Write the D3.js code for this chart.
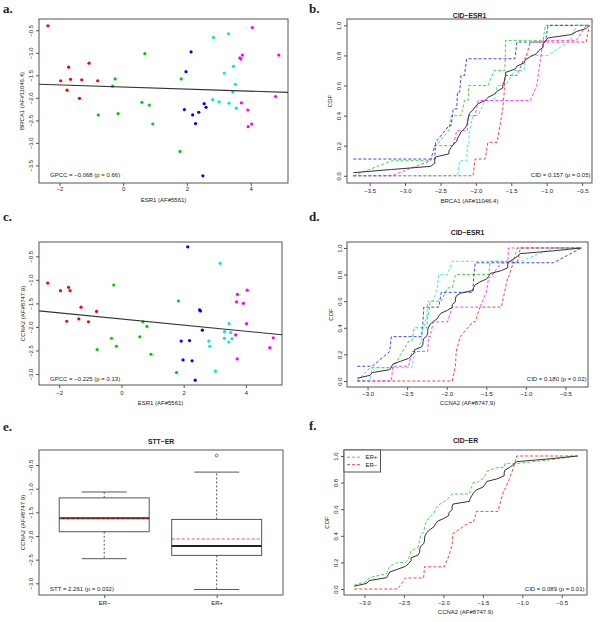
<!DOCTYPE html>
<html><head><meta charset="utf-8">
<script src="https://cdn.jsdelivr.net/npm/d3@7"></script>
<style>body{margin:0;background:#fff}</style>
</head><body><svg id="c" width="600" height="622"></svg>
<script>
// ---------------- data ----------------
const clusterColors = ["#ff0000","#00cd00","#0000ff","#00e5e5","#ff00ff"];
// panel a: ESR1 vs BRCA1, one array per cluster
const esr1_a = [
 [-2.36,-1.96,-1.71,-1.65,-1.76,-1.30,-1.07,-1.37,-0.80],
 [-0.78,-0.33,-0.25,-0.16,0.68,0.59,0.82,0.93,1.82,1.78],
 [2.13,1.97,1.92,2.18,2.27,2.37,2.54,2.60,2.50],
 [2.83,3.30,3.17,3.46,3.52,3.44,2.81,3.01,3.32,3.55],
 [4.05,3.74,3.66,3.69,4.88,4.78,3.71,3.91,4.03,3.92]];
const brca1_a = [
 [-0.40,-1.62,-1.32,-1.59,-1.83,-1.60,-1.23,-2.01,-1.62],
 [-2.38,-1.74,-1.58,-2.35,-1.02,-2.10,-2.16,-2.58,-1.58,-3.19],
 [-0.98,-1.42,-2.26,-2.38,-2.57,-2.32,-2.13,-2.21,-3.73],
 [-0.66,-0.58,-1.45,-1.30,-1.70,-1.87,-2.04,-2.09,-2.12,-2.23],
 [-0.44,-1.05,-1.11,-1.14,-1.05,-1.97,-2.11,-2.27,-2.58,-2.64]];
// panel c: ESR1 vs CCNA2
const esr1_c = [
 [-2.37,-1.96,-1.70,-1.65,-1.30,-1.76,-1.37,-1.06,-0.80],
 [-0.78,-0.25,-0.32,-0.16,0.69,0.82,0.59,0.95,1.83,1.77],
 [2.13,2.51,2.54,2.60,1.92,2.19,1.98,2.27,2.37],
 [3.17,3.46,3.31,3.51,3.31,3.55,2.81,2.84,3.45,3.02],
 [4.04,3.73,3.70,3.92,4.02,3.67,3.72,4.88,4.77]];
const ccna2_c = [
 [-1.07,-1.23,-1.16,-1.23,-1.58,-1.88,-1.83,-1.89,-1.67],
 [-2.48,-1.11,-2.24,-2.41,-1.89,-1.99,-2.21,-2.58,-1.45,-2.97],
 [-0.30,-1.64,-1.66,-2.07,-2.30,-2.29,-2.70,-2.72,-3.13],
 [-0.65,-1.93,-2.10,-2.12,-2.24,-2.25,-2.30,-2.41,-2.32,-2.94],
 [-1.22,-1.31,-1.47,-1.50,-1.93,-2.17,-2.68,-2.23,-2.44]];
// fitted lines [intercept, slope]
const fitA = [-1.760, -0.0229];
const fitC = [-1.831, -0.065];
// panels e/f: CCNA2 by ER status
const erGroups = ["ER\u2212","ER+"];
const erNeg = [-2.48,-2.24,-1.93,-1.89,-1.88,-1.67,-1.58,-1.23,-1.23,-1.16,-1.11,-1.07];
const erPos = [-3.13,-2.97,-2.94,-2.72,-2.70,-2.68,-2.58,-2.44,-2.41,-2.41,-2.32,-2.30,-2.30,-2.29,-2.25,-2.24,-2.23,-2.21,-2.17,-2.12,-2.10,-2.07,-1.99,-1.93,-1.89,-1.66,-1.64,-1.62,-1.50,-1.47,-1.45,-1.31,-1.22,-0.65,-0.30];
const erColors = ["#ff0000","#00cd00"];
// tick values
const ticksScatterX = [-2,0,2,4];
const ticksA_Y = [-3.5,-3,-2.5,-2,-1.5,-1,-0.5];
const ticksC_Y = [-3,-2.5,-2,-1.5,-1,-0.5];
const ticksB_X = [-3.5,-3,-2.5,-2,-1.5,-1,-0.5];
const ticksDF_X = [-3,-2.5,-2,-1.5,-1,-0.5];
const ticksCDF = [0,0.2,0.4,0.6,0.8,1.0];
// texts
const statText = ["GPCC = \u22120.068 (p = 0.66)","CID = 0.157 (p = 0.05)","GPCC = \u22120.225 (p = 0.13)","CID = 0.180 (p = 0.02)","STT = 2.261 (p = 0.032)","CID = 0.089 (p = 0.01)"];

// ---------------- drawing ----------------
const svg = d3.select("#c");
const FONT = "'Liberation Sans', Arial, sans-serif";
const TXT = "#222", LN = "#555";
const fs = 6;

function txt(x,y,s,o={}) {
  const t = svg.append("text").attr("x",x).attr("y",y).text(s)
    .attr("font-family",o.family||FONT).attr("font-size",o.size||fs)
    .attr("fill",o.fill||TXT).attr("text-anchor",o.anchor||"start");
  if (o.bold) t.attr("font-weight","bold");
  if (o.rot) t.attr("transform",`rotate(-90,${x},${y})`);
  return t;
}
function frame(p){
  svg.append("rect").attr("x",p.x0).attr("y",p.y0).attr("width",p.x1-p.x0).attr("height",p.y1-p.y0)
    .attr("fill","none").attr("stroke",LN).attr("stroke-width",1);
}
function xAxis(p, ticks, fmt, base){
  const g = svg.append("g").attr("transform",`translate(0,${p.y1})`)
    .call(d3.axisBottom(p.xs).tickValues(ticks).tickFormat(fmt).tickSize(3).tickSizeOuter(0));
  g.attr("font-size",null).attr("font-family",null);
  g.select(".domain").remove();
  g.selectAll("line").attr("stroke",LN);
  g.selectAll("text").attr("y",base-p.y1).attr("dy",null).attr("font-size",fs).attr("font-family",FONT).attr("fill",TXT);
}
function yAxis(p, ticks, fmt, base){
  const g = svg.append("g").attr("transform",`translate(${p.x0},0)`)
    .call(d3.axisLeft(p.ys).tickValues(ticks).tickFormat(fmt).tickSize(3).tickSizeOuter(0));
  g.attr("font-size",null).attr("font-family",null);
  g.select(".domain").remove();
  g.selectAll("line").attr("stroke",LN);
  g.selectAll("text").attr("x",0).attr("y",base-p.x0).attr("dy",null).attr("transform","rotate(-90)")
    .attr("text-anchor","middle").attr("font-size",fs).attr("font-family",FONT).attr("fill",TXT);
}
function letter(x,y,s){ txt(x,y,s,{family:"'Liberation Serif','Times New Roman',serif",size:13,bold:true}); }
function title(p,y,s){ txt((p.x0+p.x1)/2,y,s,{bold:true,size:6.8,anchor:"middle"}); }

function scatter(p, xsArr, ysArr, fit){
  const g = svg.append("g");
  xsArr.forEach((arr,ci)=>{
    arr.forEach((x,i)=>{
      g.append("circle").attr("cx",p.xs(x)).attr("cy",p.ys(ysArr[ci][i])).attr("r",1.6).attr("fill",clusterColors[ci]);
    });
  });
  const [a,b] = fit, d = p.xs.domain();
  svg.append("line").attr("x1",p.xs(d[0])).attr("y1",p.ys(a+b*d[0])).attr("x2",p.xs(d[1])).attr("y2",p.ys(a+b*d[1]))
    .attr("stroke","#333").attr("stroke-width",1.1);
}
function cdf(p, groups, colors){
  const all = groups.flat().slice().sort(d3.ascending);
  const n = all.length;
  const line = d3.line().x(d=>p.xs(d[0])).y(d=>p.ys(d[1]));
  groups.forEach((g,gi)=>{
    const pts = all.map(v=>[v, g.filter(x=>x<=v).length/g.length]);
    svg.append("path").attr("d",line(pts)).attr("fill","none").attr("stroke",colors[gi])
      .attr("stroke-width",1).attr("stroke-dasharray","3,2").attr("opacity",0.75);
  });
  const blk = all.map((v,i)=>[v,(i+1)/n]);
  svg.append("path").attr("d",line(blk)).attr("fill","none").attr("stroke","#333").attr("stroke-width",1);
}
function fivenum(arr){
  const x = arr.slice().sort(d3.ascending), n = x.length;
  const n4 = Math.floor((n+3)/2)/2;
  return [1,n4,(n+1)/2,n+1-n4,n].map(k=>0.5*(x[Math.floor(k)-1]+x[Math.ceil(k)-1]));
}

const fmtInt = d3.format("d"), fmt1 = d3.format(".1f");

// ---- panel a ----
const PA = {x0:39,x1:288,y0:19,y1:183};
PA.xs = d3.scaleLinear([-2.64,5.17],[PA.x0,PA.x1]);
PA.ys = d3.scaleLinear([-3.89,-0.25],[PA.y1,PA.y0]);
frame(PA);
scatter(PA, esr1_a, brca1_a, fitA);
xAxis(PA, ticksScatterX, fmtInt, 190.5);
yAxis(PA, ticksA_Y, fmt1, 32.5);
txt((PA.x0+PA.x1)/2, 201.5, "ESR1 (AF#5561)", {anchor:"middle"});
txt(24, (PA.y0+PA.y1)/2, "BRCA1 (AF#11046.4)", {anchor:"middle", rot:true});
txt(PA.x0+11, 177.2, statText[0]);
letter(3,13,"a.");

// ---- panel b ----
const PB = {x0:347,x1:592,y0:19,y1:183};
PB.xs = d3.scaleLinear([-3.82,-0.36],[PB.x0,PB.x1]);
PB.ys = d3.scaleLinear([-0.048,1.042],[PB.y1,PB.y0]);
frame(PB);
cdf(PB, brca1_a, clusterColors);
xAxis(PB, ticksB_X, fmt1, 193.2);
yAxis(PB, ticksCDF, fmt1, 341.3);
txt((PB.x0+PB.x1)/2, 202.5, "BRCA1 (AF#11046.4)", {anchor:"middle"});
txt(332, (PB.y0+PB.y1)/2, "CDF", {anchor:"middle", rot:true});
txt(PB.x1-1.5, 176.5, statText[1], {anchor:"end"});
title(PB, 17.6, "CID\u2212ESR1");
letter(309,13,"b.");

// ---- panel c ----
const PC = {x0:39,x1:282,y0:242,y1:385};
PC.xs = d3.scaleLinear([-2.65,5.16],[PC.x0,PC.x1]);
PC.ys = d3.scaleLinear([-3.233,-0.197],[PC.y1,PC.y0]);
frame(PC);
scatter(PC, esr1_c, ccna2_c, fitC);
xAxis(PC, ticksScatterX, fmtInt, 395.2);
yAxis(PC, ticksC_Y, fmt1, 32.5);
txt((PC.x0+PC.x1)/2, 405.2, "ESR1 (AF#5561)", {anchor:"middle"});
txt(24.5, (PC.y0+PC.y1)/2, "CCNA2 (AF#8747.9)", {anchor:"middle", rot:true});
txt(PC.x0+11, 381.3, statText[2]);
letter(3,221,"c.");

// ---- panel d ----
const PD = {x0:347,x1:588,y0:242,y1:387};
PD.xs = d3.scaleLinear([-3.26,-0.215],[PD.x0,PD.x1]);
PD.ys = d3.scaleLinear([-0.045,1.045],[PD.y1,PD.y0]);
frame(PD);
cdf(PD, ccna2_c, clusterColors);
xAxis(PD, ticksDF_X, fmt1, 395.6);
yAxis(PD, ticksCDF, fmt1, 341.5);
txt((PD.x0+PD.x1)/2, 404.8, "CCNA2 (AF#8747.9)", {anchor:"middle"});
txt(333, (PD.y0+PD.y1)/2, "CDF", {anchor:"middle", rot:true});
txt(PD.x1-1.5, 381.3, statText[3], {anchor:"end"});
title(PD, 234.6, "CID\u2212ESR1");
letter(309,221,"d.");

// ---- panel e ----
const PE = {x0:39,x1:283,y0:450,y1:595};
PE.xs = d3.scaleLinear([0.42,2.59],[PE.x0,PE.x1]);
PE.ys = d3.scaleLinear([-3.247,-0.183],[PE.y1,PE.y0]);
frame(PE);
[erNeg, erPos].forEach((vals,i)=>{
  const c = i+1;
  const [mn,q1,md,q3,mx] = fivenum(vals);
  const iqr = q3-q1;
  const inside = vals.filter(v=>v>=q1-1.5*iqr && v<=q3+1.5*iqr);
  const lo = d3.min(inside), hi = d3.max(inside);
  const outl = vals.filter(v=>v<q1-1.5*iqr || v>q3+1.5*iqr);
  const mean = d3.mean(vals);
  const g = svg.append("g");
  // whiskers
  g.append("line").attr("x1",PE.xs(c)).attr("x2",PE.xs(c)).attr("y1",PE.ys(q3)).attr("y2",PE.ys(hi))
    .attr("stroke",LN).attr("stroke-dasharray","2,2");
  g.append("line").attr("x1",PE.xs(c)).attr("x2",PE.xs(c)).attr("y1",PE.ys(q1)).attr("y2",PE.ys(lo))
    .attr("stroke",LN).attr("stroke-dasharray","2,2");
  [hi,lo].forEach(v=>g.append("line").attr("x1",PE.xs(c-0.2)).attr("x2",PE.xs(c+0.2)).attr("y1",PE.ys(v)).attr("y2",PE.ys(v)).attr("stroke",LN));
  g.append("rect").attr("x",PE.xs(c-0.4)).attr("width",PE.xs(c+0.4)-PE.xs(c-0.4))
    .attr("y",PE.ys(q3)).attr("height",PE.ys(q1)-PE.ys(q3)).attr("fill","none").attr("stroke",LN);
  g.append("line").attr("x1",PE.xs(c-0.4)).attr("x2",PE.xs(c+0.4)).attr("y1",PE.ys(md)).attr("y2",PE.ys(md))
    .attr("stroke","#222").attr("stroke-width",2);
  g.append("line").attr("x1",PE.xs(c-0.4)).attr("x2",PE.xs(c+0.4)).attr("y1",PE.ys(mean)).attr("y2",PE.ys(mean))
    .attr("stroke","#ff3030").attr("stroke-width",1.2).attr("stroke-dasharray","3,2").attr("opacity",0.85);
  outl.forEach(v=>g.append("circle").attr("cx",PE.xs(c)).attr("cy",PE.ys(v)).attr("r",1.4).attr("fill","none").attr("stroke",LN).attr("stroke-width",0.8));
});
xAxis(PE, [1,2], d=>erGroups[d-1], 605);
yAxis(PE, ticksC_Y, fmt1, 33);
txt(25, (PE.y0+PE.y1)/2, "CCNA2 (AF#8747.9)", {anchor:"middle", rot:true});
txt(PE.x0+11, 590.6, statText[4]);
title(PE, 443.5, "STT\u2212ER");
letter(3,430.5,"e.");

// ---- panel f ----
const PF = {x0:344,x1:587,y0:450,y1:595};
PF.xs = d3.scaleLinear([-3.26,-0.18],[PF.x0,PF.x1]);
PF.ys = d3.scaleLinear([-0.045,1.045],[PF.y1,PF.y0]);
frame(PF);
cdf(PF, [erPos, erNeg], [erColors[1], erColors[0]]);
xAxis(PF, ticksDF_X, fmt1, 605);
yAxis(PF, ticksCDF, fmt1, 338.3);
txt((PF.x0+PF.x1)/2, 614.2, "CCNA2 (AF#8747.9)", {anchor:"middle"});
txt(329.3, (PF.y0+PF.y1)/2, "CDF", {anchor:"middle", rot:true});
txt(PF.x1-2.5, 590.6, statText[5], {anchor:"end"});
title(PF, 442.5, "CID\u2212ER");
letter(309,430,"f.");
// legend
svg.append("rect").attr("x",PF.x0).attr("y",PF.y0).attr("width",36.5).attr("height",22)
  .attr("fill","#fff").attr("stroke",LN);
[["ER+",erColors[1]],["ER\u2212",erColors[0]]].forEach((d,i)=>{
  const y = PF.y0+7.2+i*7.5;
  svg.append("line").attr("x1",PF.x0+3).attr("x2",PF.x0+16).attr("y1",y).attr("y2",y)
    .attr("stroke",d[1]).attr("stroke-dasharray","3,2").attr("opacity",0.75);
  txt(PF.x0+21.5, y+2.2, d[0]);
});
</script></body></html>
